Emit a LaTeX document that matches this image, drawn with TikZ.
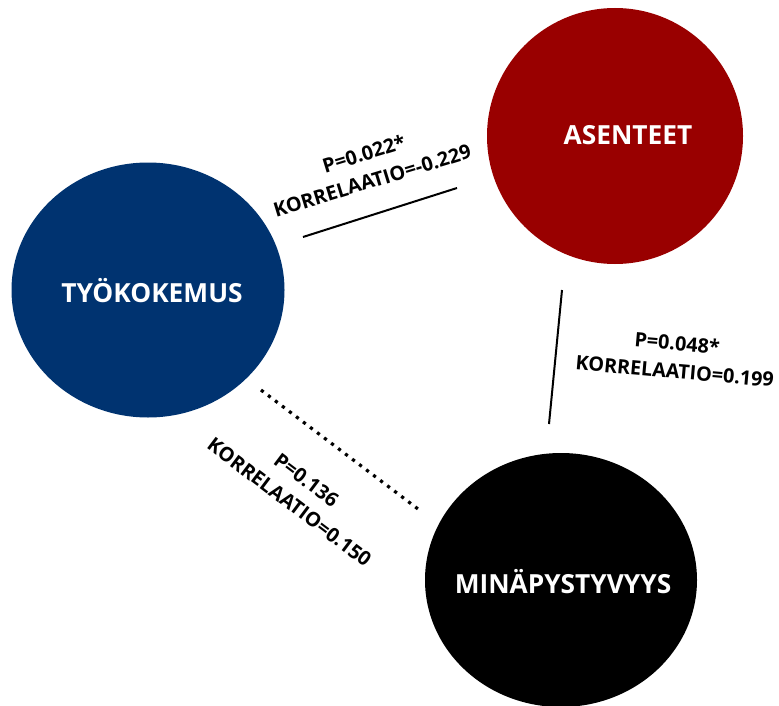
\documentclass[tikz,border=0pt]{standalone}
\usepackage{fontspec}
\setmainfont{Open Sans}
\usetikzlibrary{shapes.geometric}
\definecolor{tyoblue}{RGB}{0,51,112}
\definecolor{asred}{RGB}{153,0,0}
\tikzset{
  blob/.style={ellipse, inner sep=0pt, draw=none},
  blobtext/.style={text=white, font=\fontsize{26.3}{30}\selectfont\bfseries, inner sep=0pt},
  stat/.style={align=center, font=\fontsize{19.8}{28}\selectfont\bfseries, inner sep=0pt},
  link/.style={line width=2pt, black},
  weaklink/.style={line width=3.2pt, black, dash pattern=on 3.2pt off 5.6pt}
}
\begin{document}
\begin{tikzpicture}[x=1pt,y=-1pt]
\useasboundingbox (0,0) rectangle (779,706);
\node[blob, fill=tyoblue, minimum width=273pt, minimum height=255pt] (tyo) at (148,290) {};
\node[blob, fill=asred, minimum width=256pt, minimum height=256pt] (ase) at (615,136) {};
\node[blob, fill=black, minimum width=272pt, minimum height=254pt] (min) at (561,580) {};
\node[blobtext] (tyot) at (152,291) {TYÖKOKEMUS};
\node[blobtext] (aset) at (628,135) {ASENTEET};
\node[blobtext] (mint) at (563,582) {MINÄPYSTYVYYS};
\coordinate (a1) at (303,237);
\coordinate (a2) at (457,188);
\coordinate (b1) at (562,290);
\coordinate (b2) at (549,424);
\coordinate (c1) at (261,390);
\coordinate (c2) at (422,512);
\draw[link] (a1) -- (a2);
\draw[link] (b1) -- (b2);
\draw[weaklink] (c1) -- (c2);
\node[stat, rotate=17] (s1) at (368,167) {P=0.022*\\KORRELAATIO=-0.229};
\node[stat, rotate=-5] (s2) at (676,357) {P=0.048*\\KORRELAATIO=0.199};
\node[stat, rotate=-37] (s3) at (298,491) {P=0.136\\KORRELAATIO=0.150};
\end{tikzpicture}
\end{document}
